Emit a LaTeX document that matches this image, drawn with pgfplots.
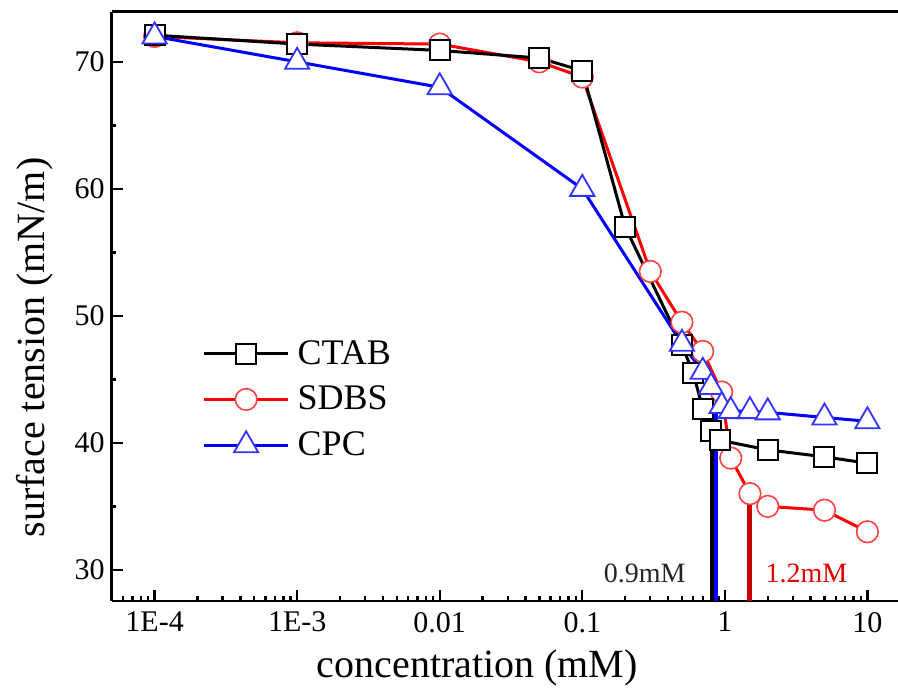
\documentclass[border=0pt]{standalone}
\usepackage{pgfplots}
\pgfplotsset{compat=1.18}
\usepackage{fontspec}
\setmainfont{Liberation Serif}
\begin{document}
\begin{tikzpicture}
\begin{axis}[
  at={(0,0)}, anchor=south west,
  scale only axis, width=393.15pt, height=294.65pt,
  xmode=log, xmin=5e-5, xmax=16.4, ymin=27.55, ymax=73.95,
  axis x line*=box, axis y line*=left,
  axis line style={line width=1.3pt},
  tick align=inside, xtick pos=left, ytick pos=left,
  major tick length=5.5pt, minor tick length=2.4pt,
  every tick/.style={black, line width=1.2pt},
  xtick={1e-4,1e-3,0.01,0.1,1,10},
  xticklabels={1E-4,1E-3,0.01,0.1,1,10},
  minor xtick={6e-5,7e-5,8e-5,9e-5,
    2e-4,3e-4,4e-4,5e-4,6e-4,7e-4,8e-4,9e-4,
    2e-3,3e-3,4e-3,5e-3,6e-3,7e-3,8e-3,9e-3,
    0.02,0.03,0.04,0.05,0.06,0.07,0.08,0.09,
    0.2,0.3,0.4,0.5,0.6,0.7,0.8,0.9,
    2,3,4,5,6,7,8,9},
  ytick={30,40,50,60,70},
  minor ytick={35,45,55,65},
  /pgf/number format/assume math mode=true,
  tick label style={font=\fontsize{15}{18}\selectfont},
  xticklabel style={yshift=-2pt},
  xlabel={concentration (mM)},
  ylabel={surface tension (mN/m)},
  label style={font=\fontsize{20}{23}\selectfont},
  xlabel style={at={(axis description cs:0.465,0)}, anchor=center, yshift=-33.5pt},
  ylabel style={at={(axis description cs:0,0.43)}, anchor=center, yshift=38.3pt},
  legend style={at={(0.115,0.45)}, anchor=north west, draw=none, fill=none,
    font=\fontsize{18}{21}\selectfont, row sep=5.5pt, inner sep=0pt, nodes={inner sep=2pt},
    /tikz/column 2/.style={column sep=0pt}},
  legend cell align=left,
  legend image code/.code={\draw[mark repeat=2,mark phase=2,#1] plot coordinates {(0pt,0pt) (21pt,0pt) (42pt,0pt)};},
]
\addlegendimage{black, line width=1.6pt, mark=square*, mark size=5pt, mark options={fill=white, line width=1pt, solid}}
\addlegendentry{\hspace{2pt}CTAB}
\addlegendimage{red, line width=1.6pt, mark=*, mark size=5.4pt, mark options={fill=white, draw=red!75!white, line width=0.8pt, solid}}
\addlegendentry{\hspace{2pt}SDBS}
\addlegendimage{blue, line width=1.6pt, mark=triangle*, mark size=7pt, mark options={fill=white, draw=blue!80!white, line width=0.9pt, solid}}
\addlegendentry{\hspace{2pt}CPC}

% SDBS
\addplot[forget plot, red, line width=1.5pt, mark=*, mark size=5.4pt, mark options={fill=white, draw=red!75!white, line width=0.8pt, solid}]
coordinates {(1e-4,72.0) (1e-3,71.5) (0.01,71.4) (0.05,70.0) (0.1,68.8) (0.3,53.5) (0.5,49.5) (0.7,47.2) (0.95,44.0) (1.1,38.8) (1.5,36.0) (2,35.0) (5,34.7) (10,33.0)};
% CTAB
\addplot[forget plot, black, line width=1.5pt, mark=square*, mark size=5pt, mark options={fill=white, line width=1pt, solid}]
coordinates {(1e-4,72.1) (1e-3,71.4) (0.01,70.9) (0.05,70.3) (0.1,69.3) (0.2,57.0) (0.5,47.7) (0.6,45.5) (0.7,42.7) (0.8,40.9) (0.93,40.2) (2,39.45) (5,38.9) (10,38.4)};
% CPC
\addplot[forget plot, blue, line width=1.5pt, mark=triangle*, mark size=7pt, mark options={fill=white, draw=blue!80!white, line width=0.9pt, solid}]
coordinates {(1e-4,72.0) (1e-3,70.0) (0.01,68.0) (0.1,60.0) (0.5,47.8) (0.7,45.6) (0.8,44.4) (0.95,42.9) (1.1,42.5) (1.5,42.5) (2,42.4) (5,42.0) (10,41.7)};

% CMC markers
\addplot[forget plot, black, line width=3pt] coordinates {(0.83,27.55) (0.83,40.9)};
\addplot[forget plot, blue, line width=1.8pt] coordinates {(0.87,27.55) (0.87,43.1)};
\addplot[forget plot, red!80!black, line width=2.5pt] coordinates {(1.5,27.55) (1.5,36.0)};

\node[font=\fontsize{14}{16}\selectfont, text=black!85] at (axis cs:0.274,29.75) {0.9mM};
\node[font=\fontsize{14}{16}\selectfont, text=red!90!black] at (axis cs:3.74,29.75) {1.2mM};
\end{axis}
\pgfresetboundingbox
\path (-55.85pt,-46.5pt) rectangle (393.15pt,300.5pt);
\end{tikzpicture}
\end{document}
